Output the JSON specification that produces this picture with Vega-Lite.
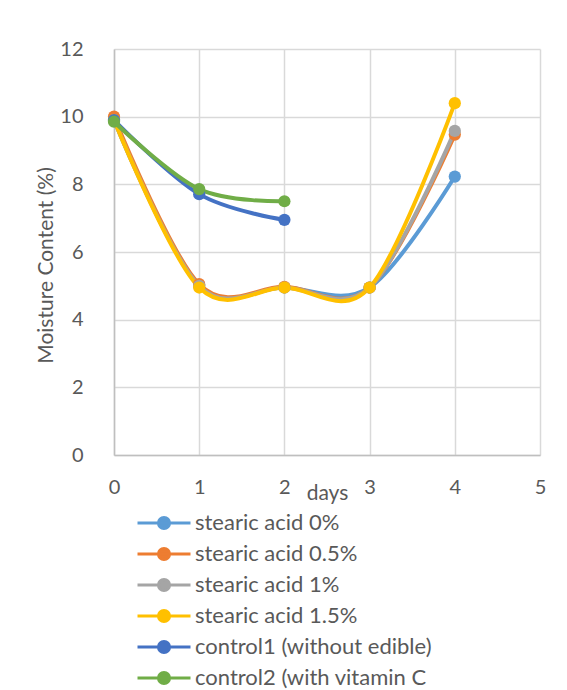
{
  "$schema": "https://vega.github.io/schema/vega-lite/v6.json",
  "autosize": {"type": "none"},
  "padding": {"left": 114, "top": 49, "right": 27, "bottom": 235},
  "width": 426,
  "height": 406,
  "background": "white",
  "config": {"view": {"stroke": null}, "font": "Lato"},
  "data": {"values": [
    {"series": "stearic acid 0%", "day": 0, "mc": 9.9},
    {"series": "stearic acid 0%", "day": 1, "mc": 5.0},
    {"series": "stearic acid 0%", "day": 2, "mc": 4.95},
    {"series": "stearic acid 0%", "day": 3, "mc": 4.95},
    {"series": "stearic acid 0%", "day": 4, "mc": 8.23},
    {"series": "stearic acid 0.5%", "day": 0, "mc": 10.0},
    {"series": "stearic acid 0.5%", "day": 1, "mc": 5.05},
    {"series": "stearic acid 0.5%", "day": 2, "mc": 4.97},
    {"series": "stearic acid 0.5%", "day": 3, "mc": 4.95},
    {"series": "stearic acid 0.5%", "day": 4, "mc": 9.47},
    {"series": "stearic acid 1%", "day": 0, "mc": 9.9},
    {"series": "stearic acid 1%", "day": 1, "mc": 5.0},
    {"series": "stearic acid 1%", "day": 2, "mc": 4.95},
    {"series": "stearic acid 1%", "day": 3, "mc": 4.95},
    {"series": "stearic acid 1%", "day": 4, "mc": 9.58},
    {"series": "stearic acid 1.5%", "day": 0, "mc": 9.9},
    {"series": "stearic acid 1.5%", "day": 1, "mc": 4.95},
    {"series": "stearic acid 1.5%", "day": 2, "mc": 4.95},
    {"series": "stearic acid 1.5%", "day": 3, "mc": 4.95},
    {"series": "stearic acid 1.5%", "day": 4, "mc": 10.4},
    {"series": "control1 (without edible)", "day": 0, "mc": 9.9},
    {"series": "control1 (without edible)", "day": 1, "mc": 7.71},
    {"series": "control1 (without edible)", "day": 2, "mc": 6.95},
    {"series": "control2 (with vitamin C", "day": 0, "mc": 9.85},
    {"series": "control2 (with vitamin C", "day": 1, "mc": 7.86},
    {"series": "control2 (with vitamin C", "day": 2, "mc": 7.5}
  ]},
  "encoding": {
    "x": {"field": "day", "type": "quantitative",
      "scale": {"domain": [0, 5], "nice": false},
      "axis": {"title": "days", "values": [0, 1, 2, 3, 4, 5], "grid": true, "gridColor": "#d9d9d9", "gridWidth": 1.5,
        "domainColor": "#bfbfbf", "domainWidth": 1.5, "ticks": false, "tickSize": 0, "labelFlush": false,
        "labelFont": "Lato", "labelFontSize": 20, "labelColor": "#595959", "labelPadding": 22,
        "titleFont": "Lato", "titleFontSize": 21, "titleFontWeight": "normal", "titleColor": "#595959",
        "titleY": 44, "titleBaseline": "alphabetic"}},
    "y": {"field": "mc", "type": "quantitative",
      "scale": {"domain": [0, 12], "nice": false},
      "axis": {"title": "Moisture Content (%)", "values": [0, 2, 4, 6, 8, 10, 12], "grid": true, "gridColor": "#d9d9d9", "gridWidth": 1.5,
        "domainColor": "#bfbfbf", "domainWidth": 1.5, "ticks": false, "tickSize": 0, "labelFlush": false,
        "labelFont": "Lato", "labelFontSize": 20, "labelColor": "#595959", "labelPadding": 31,
        "titleFont": "Lato", "titleFontSize": 21, "titleFontWeight": "normal", "titleColor": "#595959",
        "titleX": -62, "titleY": 216, "titleBaseline": "alphabetic", "titleAlign": "center", "titleAngle": -90}},
    "color": {"field": "series", "type": "nominal",
      "scale": {"domain": ["stearic acid 0%", "stearic acid 0.5%", "stearic acid 1%", "stearic acid 1.5%", "control1 (without edible)", "control2 (with vitamin C"],
        "range": ["#5B9BD5", "#ED7D31", "#A5A5A5", "#FFC000", "#4472C4", "#70AD47"]},
      "legend": {"title": null, "orient": "none", "legendX": 22, "legendY": 463, "direction": "vertical",
        "labelFont": "Lato", "labelFontSize": 22, "labelColor": "#595959", "labelOffset": 3, "labelLimit": 0,
        "rowPadding": 9, "clipHeight": 22, "symbolSize": 2809, "symbolStrokeWidth": 3,
        "symbolType": "M-1,0L1,0M-0.21,0A0.21,0.21 0 1,0 0.21,0A0.21,0.21 0 1,0 -0.21,0",
        "encode": {"symbols": {"update": {"fill": {"scale": "color", "field": "value"}, "stroke": {"scale": "color", "field": "value"}, "opacity": {"value": 1}}}}}}
  },
  "layer": [
    {"mark": {"type": "line", "interpolate": "cardinal", "tension": 0, "strokeWidth": 4}},
    {"mark": {"type": "point", "shape": "circle", "filled": true, "size": 150, "opacity": 1}}
  ]
}
